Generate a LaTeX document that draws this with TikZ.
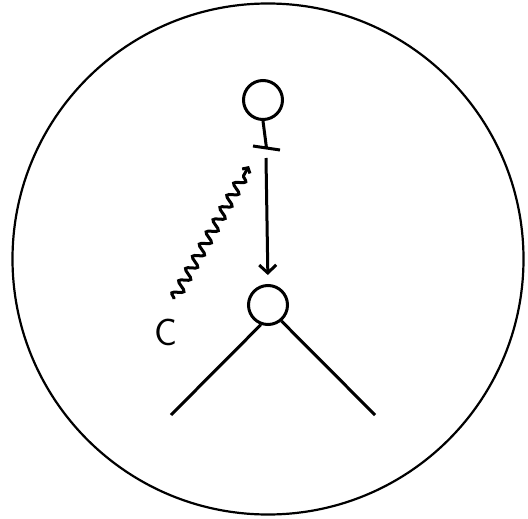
\documentclass[tikz,border=0pt]{standalone}
\usepackage{tikz}
\usetikzlibrary{positioning}
\usetikzlibrary{decorations.pathmorphing}
\usetikzlibrary{arrows.meta}
\tikzset{>=latex}
\tikzstyle{ring} = [draw, circle, line width=3pt, minimum size=39pt, inner sep=0]
\tikzstyle{wave} = [decorate, decoration={snake, amplitude=5pt, segment length=14pt, post length=6pt}]

\begin{document}
\begin{tikzpicture}[x=1pt, y=-1pt, line width=3pt]
\useasboundingbox (0,0) rectangle (528,519);
\node [draw, circle, line width=2.2pt, minimum size=511pt, inner sep=0] (cell) at (268,259) {};
\node [ring] (ligand) at (263,100) {};
\node [ring] (receptor) at (268,305) {};
\node [draw=none, inner sep=0, font=\fontsize{38}{40}\sffamily] (signal) at (166,332) {C};
\coordinate (barL) at (253,146);
\coordinate (barR) at (280,150);
\coordinate (bar) at (266.5,148);
\coordinate (relay) at (266,158);
\coordinate (legL) at (171,415);
\coordinate (legR) at (375,415);
\coordinate (hit) at (249,166);
\draw (ligand.south) -- (bar);
\draw (barL) -- (barR);
\draw [-{Straight Barb[length=8pt, width=17pt]}, shorten >=9pt] (relay) -- (receptor.north);
\draw [-{Straight Barb[length=4pt, width=9pt]}, wave] ([xshift=8pt, yshift=18pt]signal.north) -- (hit);
\draw (receptor.250) -- (legL);
\draw (receptor.310) -- (legR);
\end{tikzpicture}
\end{document}
